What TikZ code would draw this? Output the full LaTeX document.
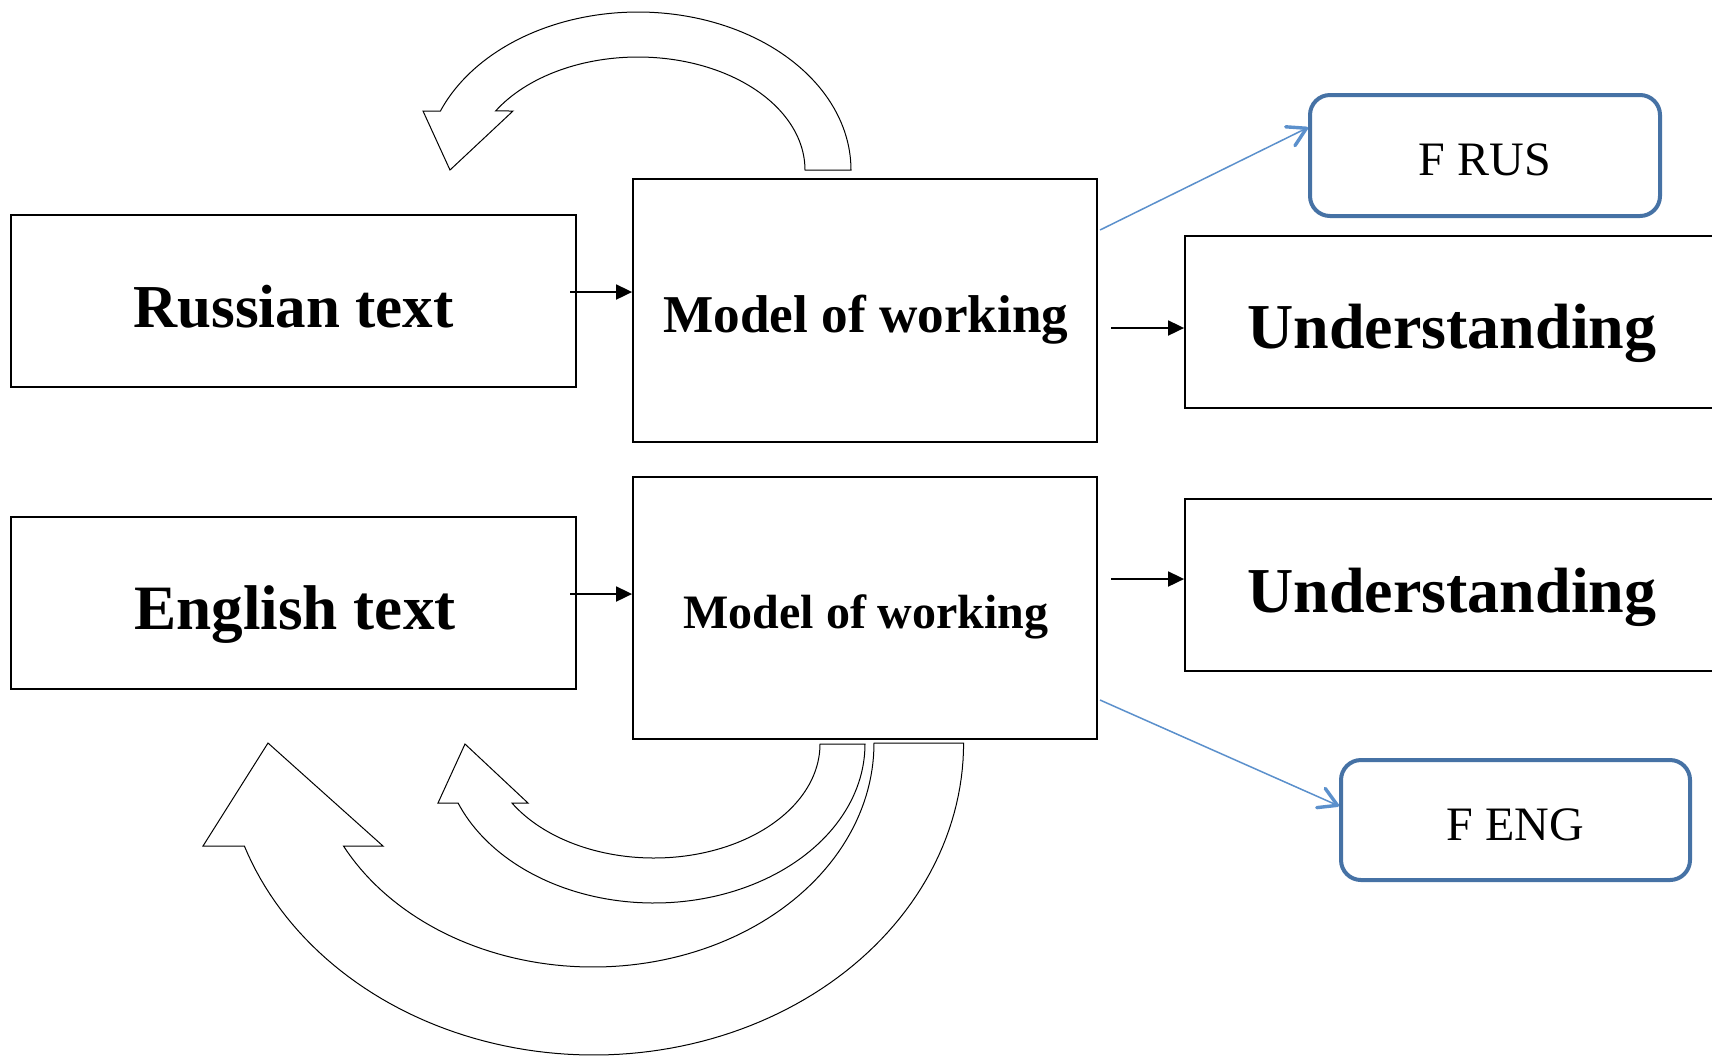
\documentclass[tikz,border=0pt]{standalone}
\usepackage{fontspec}
\setmainfont{Liberation Serif}
\usetikzlibrary{arrows.meta}
\definecolor{boxblue}{RGB}{70,114,165}
\definecolor{lineblue}{RGB}{91,144,204}
\tikzset{
  sqbox/.style={draw=black,line width=0.9pt,inner sep=0pt,fill=white},
  rbox/.style={draw=boxblue,line width=2pt,rounded corners=10pt,inner sep=0pt},
  btxt/.style={anchor=base,inner sep=0pt,font=\bfseries\fontsize{#1}{#1}\selectfont},
  rtxt/.style={anchor=base,inner sep=0pt,font=\fontsize{#1}{#1}\selectfont},
  blkarr/.style={line width=0.9pt,-{Triangle[length=8pt,width=7.5pt]}},
  bluearr/.style={draw=lineblue,line width=0.75pt,-{Straight Barb[length=9pt,width=10.5pt,line width=1.7pt,round]}},
  curv/.style={draw=black,fill=white,line width=0.5pt,line join=miter}
}
\begin{document}
\begin{tikzpicture}[x=0.5pt,y=-0.5pt]
\clip (0,0) rectangle (1712,1057);
\fill[white] (0,0) rectangle (1712,1057);

% boxes
\node[sqbox,minimum width=282.5pt,minimum height=86pt] (rus) at (293.5,301) {};
\node[sqbox,minimum width=282.5pt,minimum height=86pt] (eng) at (293.5,603) {};
\node[sqbox,minimum width=232pt,minimum height=131.5pt] (m1) at (865,310.5) {};
\node[sqbox,minimum width=232pt,minimum height=131pt] (m2) at (865,608) {};
\node[sqbox,minimum width=272.5pt,minimum height=86pt] (u1) at (1457.5,322) {};
\node[sqbox,minimum width=272.5pt,minimum height=86pt] (u2) at (1457.5,585) {};
\node[rbox,minimum width=175pt,minimum height=60.5pt] (frus) at (1485,155.5) {};
\node[rbox,minimum width=174.5pt,minimum height=60pt] (feng) at (1515.5,820) {};

% texts
\node[btxt=30.5pt] (trus) at (293.5,327) {Russian text};
\node[btxt=31.6pt] (teng) at (295,629) {English text};
\node[btxt=26.6pt] (tm1) at (866,332) {Model of working};
\node[btxt=24pt] (tm2) at (866,628) {Model of working};
\node[btxt=32pt] (tu1) at (1452,348) {Understanding};
\node[btxt=32pt] (tu2) at (1452,612) {Understanding};
\node[rtxt=24pt] (tfrus) at (1485,175) {F RUS};
\node[rtxt=24pt] (tfeng) at (1515.5,840) {F ENG};

% straight connectors
\coordinate (a1) at (570,292);
\coordinate (a2) at (570,594);
\coordinate (a3) at (1111,328);
\coordinate (a4) at (1111,579);
\coordinate (b1) at (1100,230);
\coordinate (b2) at (1100,700);
\draw[blkarr] (a1) -- (a1 -| m1.west);
\draw[blkarr] (a2) -- (a2 -| m2.west);
\draw[blkarr] (a3) -- (a3 -| u1.west);
\draw[blkarr] (a4) -- (a4 -| u2.west);
\draw[bluearr] (b1) -- ([yshift=14pt]frus.west);
\draw[bluearr] (b2) -- ([yshift=7pt]feng.west);

% curved block arrows
\draw[curv] (851,170)
  -- plot[domain=0:158.1,samples=90,variable=\t] ({638+213*cos(\t)},{170-158*sin(\t)})
  -- (423,111) -- (450,170) -- (513,111)
  -- plot[domain=0:148.5,samples=80,variable=\t] ({638+167*cos(148.5-\t)},{170-113*sin(148.5-\t)})
  -- cycle;
\draw[curv] (963.6,743)
  -- plot[domain=0:160.72,samples=100,variable=\t] ({593.6+370*cos(\t)},{743+312*sin(\t)})
  -- (203,846) -- (268,743) -- (383,846)
  -- plot[domain=0:152.62,samples=90,variable=\t] ({593+281*cos(152.62-\t)},{743+224*sin(152.62-\t)})
  -- cycle;
\draw[curv] (865,744)
  -- plot[domain=0:158.22,samples=90,variable=\t] ({654+211*cos(\t)},{744+159*sin(\t)})
  -- (438,803) -- (465,744) -- (528,803)
  -- plot[domain=0:148.84,samples=80,variable=\t] ({654+166*cos(148.84-\t)},{744+114*sin(148.84-\t)})
  -- cycle;
\end{tikzpicture}
\end{document}
